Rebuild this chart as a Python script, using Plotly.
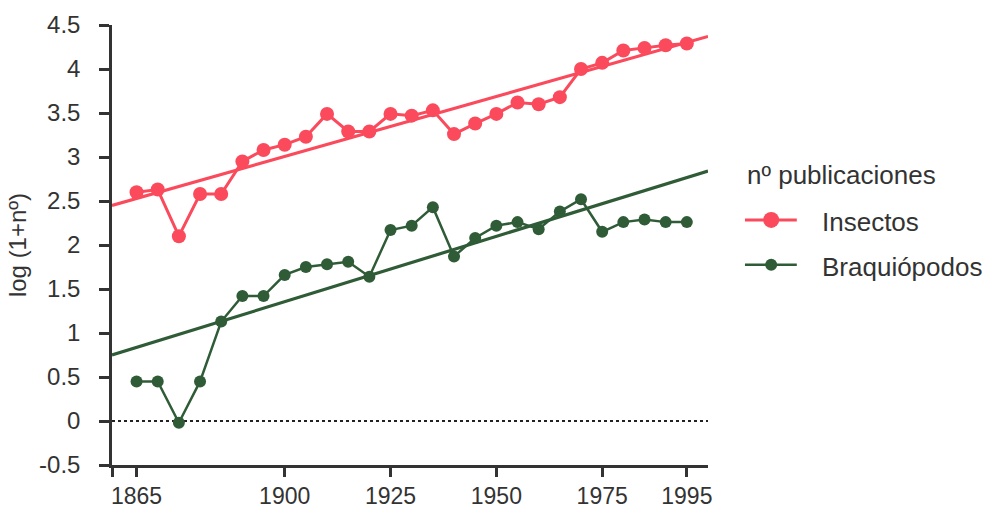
import plotly.graph_objects as go

# Five-year sampling, 1865-1995
years = [1865, 1870, 1875, 1880, 1885, 1890, 1895, 1900, 1905, 1910, 1915,
         1920, 1925, 1930, 1935, 1940, 1945, 1950, 1955, 1960, 1965, 1970,
         1975, 1980, 1985, 1990, 1995]

# log(1 + number of publications)
insectos = [2.60, 2.63, 2.10, 2.58, 2.58, 2.95, 3.08, 3.14, 3.23, 3.49, 3.29,
            3.29, 3.49, 3.47, 3.53, 3.26, 3.38, 3.49, 3.62, 3.60, 3.68, 4.00,
            4.07, 4.21, 4.24, 4.27, 4.29]
braquiopodos = [0.45, 0.45, -0.02, 0.45, 1.13, 1.42, 1.42, 1.66, 1.75, 1.78, 1.81,
                1.64, 2.17, 2.22, 2.43, 1.87, 2.08, 2.22, 2.26, 2.18, 2.38, 2.52,
                2.15, 2.26, 2.29, 2.26, 2.26]

# Linear trends across the plotted period
trend_years = [1859.2, 2000]
insectos_trend = [2.45, 4.37]
braquiopodos_trend = [0.75, 2.84]

x_ticks = [1859.2, 1865, 1900, 1925, 1950, 1975, 1995]
x_tick_text = ["", "1865", "1900", "1925", "1950", "1975", "1995"]
y_ticks = [-0.5, 0, 0.5, 1, 1.5, 2, 2.5, 3, 3.5, 4, 4.5]
y_tick_text = ["-0.5", "0", "0.5", "1", "1.5", "2", "2.5", "3", "3.5", "4", "4.5"]

legend_title = "nº publicaciones"
series_names = ["Insectos", "Braquiópodos"]

RED = "#FB4A5C"
GREEN = "#2F5C37"
AXIS = "#333333"
TEXT = "#333333"
FONT = "Liberation Sans, Arial, sans-serif"

fig = go.Figure()

# zero reference line
fig.add_trace(go.Scatter(
    x=trend_years, y=[0, 0], mode="lines",
    line=dict(color="#222222", width=2, dash="dot"),
    showlegend=False, hoverinfo="skip"))

fig.add_trace(go.Scatter(
    x=trend_years, y=insectos_trend, mode="lines",
    line=dict(color=RED, width=3.2), showlegend=False, hoverinfo="skip"))
fig.add_trace(go.Scatter(
    x=trend_years, y=braquiopodos_trend, mode="lines",
    line=dict(color=GREEN, width=3.2), showlegend=False, hoverinfo="skip"))

fig.add_trace(go.Scatter(
    x=years, y=insectos, mode="lines+markers", name=series_names[0],
    line=dict(color=RED, width=3),
    marker=dict(color=RED, size=14), showlegend=False))
fig.add_trace(go.Scatter(
    x=years, y=braquiopodos, mode="lines+markers", name=series_names[1],
    line=dict(color=GREEN, width=2.5),
    marker=dict(color=GREEN, size=12), showlegend=False))

# Key to the right of the plot, in paper coordinates
key_x0, key_x1, key_mid, key_text_x = 1.062, 1.149, 1.106, 1.188
key_rows = [(0.557, RED, 3, 16), (0.455, GREEN, 2.5, 12)]
shapes = []
annotations = [dict(
    text=legend_title, xref="paper", yref="paper", x=key_x0, y=0.659,
    xanchor="left", yanchor="middle", showarrow=False,
    font=dict(size=26, color=TEXT, family=FONT))]
for (ky, col, lw, ms), label in zip(key_rows, series_names):
    shapes.append(dict(type="line", xref="paper", yref="paper",
                       x0=key_x0, x1=key_x1, y0=ky, y1=ky,
                       line=dict(color=col, width=lw)))
    shapes.append(dict(type="circle", xref="paper", yref="paper",
                       xsizemode="pixel", ysizemode="pixel",
                       xanchor=key_mid, yanchor=ky,
                       x0=-ms / 2, x1=ms / 2, y0=-ms / 2, y1=ms / 2,
                       fillcolor=col, line=dict(width=0)))
    annotations.append(dict(
        text=label, xref="paper", yref="paper", x=key_text_x, y=ky - 0.004,
        xanchor="left", yanchor="middle", showarrow=False,
        font=dict(size=26, color=TEXT, family=FONT)))

fig.update_layout(
    width=988, height=511,
    margin=dict(l=112, r=280, t=25, b=46),
    paper_bgcolor="white", plot_bgcolor="white",
    font=dict(family=FONT, size=24, color=TEXT),
    showlegend=False,
    shapes=shapes,
    annotations=annotations,
    xaxis=dict(
        range=[1859.2, 2000], tickmode="array", tickvals=x_ticks, ticktext=x_tick_text,
        showgrid=False, zeroline=False, showline=True, linecolor=AXIS, linewidth=2.5,
        ticks="outside", ticklen=9, tickwidth=2.5, tickcolor=AXIS,
        ticklabelstandoff=0, automargin=False,
        tickfont=dict(size=23, color=TEXT)),
    yaxis=dict(
        range=[-0.5, 4.5], tickmode="array", tickvals=y_ticks, ticktext=y_tick_text,
        showgrid=False, zeroline=False, showline=True, linecolor=AXIS, linewidth=2.5,
        ticks="outside", ticklen=10, tickwidth=2.5, tickcolor=AXIS,
        ticklabelstandoff=14, automargin=False,
        title=dict(text="log (1+nº)", font=dict(size=24, color=TEXT), standoff=6),
        tickfont=dict(size=24, color=TEXT)),
)

fig.write_html("out.html")
